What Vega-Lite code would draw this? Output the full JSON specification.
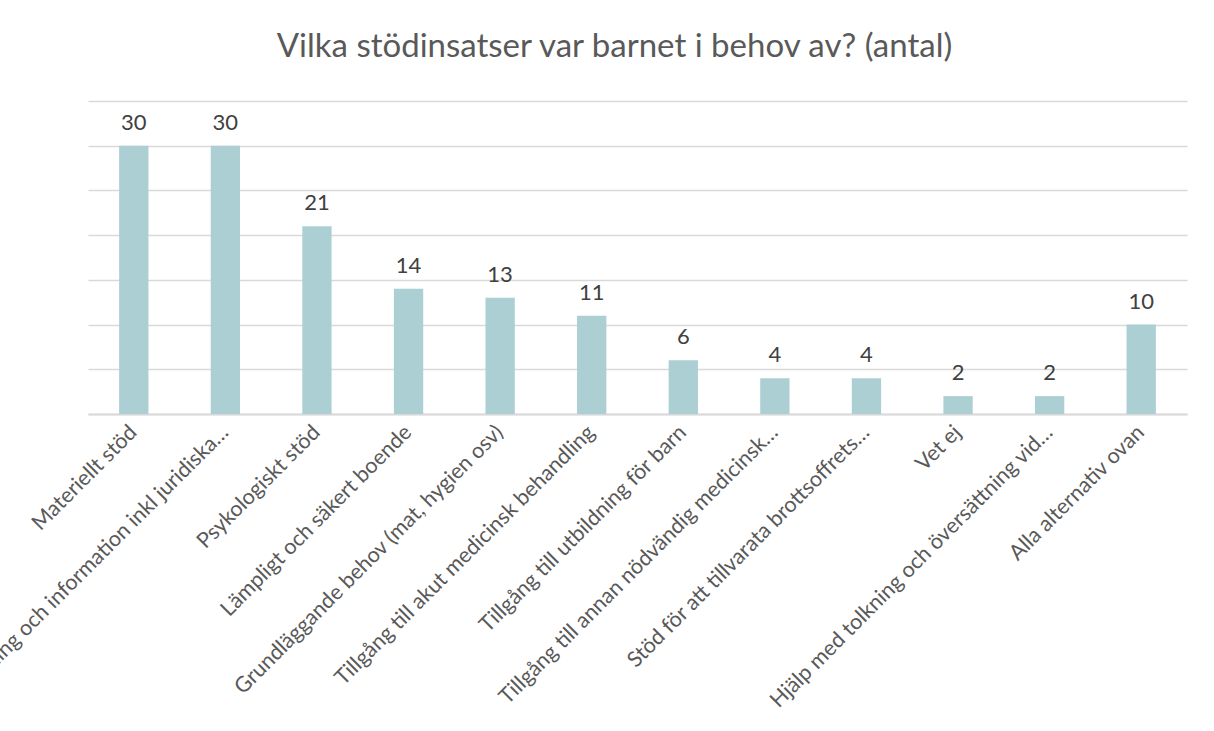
{
  "$schema": "https://vega.github.io/schema/vega-lite/v6.json",
  "width": 1099,
  "height": 313,
  "autosize": {"type": "none"},
  "padding": {"left": 88, "top": 101, "right": 27, "bottom": 317},
  "background": "white",
  "title": {
    "text": "Vilka stödinsatser var barnet i behov av? (antal)",
    "font": "Lato",
    "fontSize": 33,
    "fontWeight": "normal",
    "color": "#595959",
    "anchor": "middle",
    "dx": -23,
    "baseline": "alphabetic",
    "offset": 11
  },
  "data": {
    "values": [
      {"kategori": "Materiellt stöd", "antal": 30},
      {"kategori": "Rådgivning och information inkl juridiska…", "antal": 30},
      {"kategori": "Psykologiskt stöd", "antal": 21},
      {"kategori": "Lämpligt och säkert boende", "antal": 14},
      {"kategori": "Grundläggande behov (mat, hygien osv)", "antal": 13},
      {"kategori": "Tillgång till akut medicinsk behandling", "antal": 11},
      {"kategori": "Tillgång till utbildning för barn", "antal": 6},
      {"kategori": "Tillgång till annan nödvändig medicinsk…", "antal": 4},
      {"kategori": "Stöd för att tillvarata brottsoffrets…", "antal": 4},
      {"kategori": "Vet ej", "antal": 2},
      {"kategori": "Hjälp med tolkning och översättning vid…", "antal": 2},
      {"kategori": "Alla alternativ ovan", "antal": 10}
    ]
  },
  "config": {
    "view": {"stroke": null},
    "font": "Lato"
  },
  "encoding": {
    "x": {
      "field": "kategori",
      "type": "nominal",
      "sort": null,
      "scale": {"paddingInner": 0.68, "paddingOuter": 0.34},
      "axis": {
        "title": null,
        "labelAngle": -45,
        "labelAlign": "right",
        "labelBaseline": "middle",
        "labelFont": "Lato",
        "labelFontSize": 21.5,
        "labelColor": "#595959",
        "labelPadding": 15,
        "labelLimit": 0,
        "labelOverlap": false,
        "ticks": false,
        "domainColor": "#d9d9d9",
        "domainWidth": 2,
        "grid": false
      }
    },
    "y": {
      "field": "antal",
      "type": "quantitative",
      "scale": {"domain": [0, 35]},
      "axis": {
        "title": null,
        "values": [0, 5, 10, 15, 20, 25, 30, 35],
        "labels": false,
        "ticks": false,
        "domain": false,
        "grid": true,
        "gridColor": "#d9d9d9",
        "gridWidth": 1.5
      }
    }
  },
  "layer": [
    {"mark": {"type": "bar", "color": "#abcfd3"}},
    {
      "mark": {
        "type": "text",
        "baseline": "alphabetic",
        "dy": -16,
        "font": "Lato",
        "fontSize": 22,
        "color": "#404040"
      },
      "encoding": {"text": {"field": "antal", "type": "quantitative"}}
    }
  ]
}
